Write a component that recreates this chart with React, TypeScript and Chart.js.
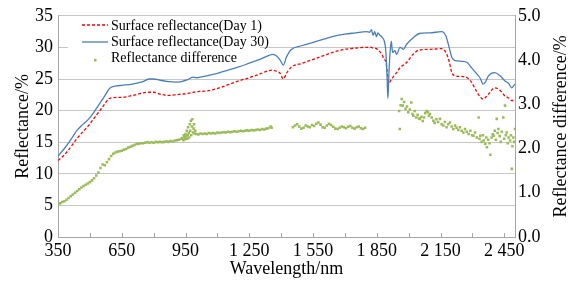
import React, { useEffect, useRef } from 'react';
import { Chart, registerables } from 'chart.js';

Chart.register(...registerables);

const FONT = "'Liberation Serif', 'Times New Roman', serif";

// ---- reflectance curves (left axis, %) ----
const wavelengths = [
  350, 380, 400, 420, 440, 460, 480, 500, 520, 540, 560, 575, 590, 600, 625, 650, 700, 750, 780, 800,
  830, 870, 900, 930, 960, 986, 1000, 1050, 1100, 1150, 1200, 1250, 1300, 1340, 1360, 1380, 1395, 1410, 1425, 1445,
  1500, 1550, 1600, 1650, 1700, 1750, 1800, 1815, 1825, 1832, 1840, 1848, 1855, 1865, 1875, 1885, 1892, 1898, 1902, 1907,
  1913, 1918, 1924, 1935, 1943, 1959, 1975, 1990, 2020, 2050, 2100, 2155, 2175, 2190, 2203, 2220, 2250, 2275, 2295, 2320,
  2335, 2350, 2362, 2375, 2405, 2430, 2453, 2470, 2485, 2495, 2500,
];
const day1 = [
  12.1, 13.0, 13.8, 14.7, 15.6, 16.4, 17.1, 17.9, 18.8, 19.7, 20.6, 21.3, 21.9, 22.0, 22.1, 22.1, 22.4, 22.8, 22.9, 22.9,
  22.6, 22.4, 22.5, 22.6, 22.7, 22.9, 23.0, 23.1, 23.5, 24.1, 24.7, 25.2, 25.8, 26.3, 26.4, 26.2, 25.9, 25.0, 25.9, 26.8,
  27.5, 28.1, 28.7, 29.3, 29.7, 29.9, 30.0, 30.0, 30.0, 29.9, 29.9, 29.8, 29.6, 29.3, 28.8, 28.1, 27.8, 26.5, 25.0, 24.4,
  24.6, 25.0, 25.2, 25.7, 26.0, 26.8, 27.2, 27.6, 28.9, 29.6, 29.7, 29.8, 29.2, 27.8, 26.0, 25.5, 25.4, 25.2, 24.5, 23.0,
  22.2, 21.8, 22.1, 22.6, 23.6, 23.2, 22.3, 22.0, 21.6, 21.6, 21.5,
];
const day30 = [
  12.8, 14.0, 14.9, 15.9, 16.9, 17.6, 18.2, 18.9, 19.8, 20.8, 21.8, 22.6, 23.4, 23.7, 23.9, 24.0, 24.2, 24.6, 25.0, 25.0,
  24.8, 24.6, 24.5, 24.6, 24.9, 25.3, 25.2, 25.5, 25.9, 26.4, 26.9, 27.5, 28.1, 28.7, 28.9, 28.6, 28.0, 27.2, 28.5, 29.6,
  30.3, 30.8, 31.3, 31.8, 32.1, 32.3, 32.5, 32.4, 32.8, 31.9, 32.5, 31.7, 32.3, 31.9, 31.6, 31.0, 29.5, 25.5, 21.9, 26.0,
  29.5, 31.0, 29.2, 29.5, 28.9, 30.0, 29.7, 30.5, 31.5, 32.2, 32.3, 32.5, 31.8, 30.0, 28.4, 27.9, 27.8, 27.6, 26.8, 25.8,
  25.2, 24.2, 24.6, 25.5, 26.0, 25.5, 24.7, 24.3, 23.6, 24.0, 24.2,
];

// ---- reflectance difference (right axis, %) ----
const diffWavelengths = [
  350, 360, 370, 380, 390, 400, 410, 420, 430, 440, 450, 460, 470, 480, 490, 500, 510, 520, 530, 540,
  550, 560, 570, 580, 590, 600, 610, 620, 630, 640, 650, 660, 670, 680, 690, 700, 710, 720, 730, 740,
  750, 760, 770, 780, 790, 800, 810, 820, 830, 840, 850, 860, 870, 880, 890, 900, 910, 920, 930,
  935, 940, 942, 945, 948, 950, 953, 956, 958, 960, 962, 965, 967, 970, 972, 975, 977, 980, 982, 985, 988, 990, 993, 996,
  1000, 1010, 1020, 1030, 1040, 1050, 1060, 1070, 1080, 1090, 1100, 1110, 1120, 1130, 1140, 1150, 1160, 1170, 1180, 1190,
  1200, 1210, 1220, 1230, 1240, 1250, 1260, 1270, 1280, 1290, 1300, 1310, 1320, 1330, 1340, 1350, 1355,
  1455, 1465, 1475, 1485, 1495, 1505, 1515, 1525, 1535, 1545, 1555, 1565, 1575, 1585, 1595, 1605, 1615, 1625, 1635, 1645,
  1655, 1665, 1675, 1685, 1695, 1705, 1715, 1725, 1735, 1745, 1755, 1765, 1775, 1785, 1795,
  1955, 1958, 1962, 1967, 1972, 1978, 1985, 1992, 1998, 2005, 2012, 2018, 2022, 2028, 2035, 2042, 2048, 2053, 2060, 2066,
  2072, 2078, 2084, 2090, 2095, 2100, 2108, 2116, 2122, 2130, 2138, 2147, 2155, 2163, 2170, 2178, 2186, 2194, 2202, 2210,
  2218, 2225, 2233, 2241, 2249, 2257, 2265, 2273, 2282, 2290, 2298, 2305, 2312, 2320, 2329, 2333, 2337, 2343, 2349, 2353,
  2360, 2365, 2368, 2374, 2380, 2384, 2390, 2395, 2400, 2405, 2410, 2414, 2418, 2422, 2428, 2433, 2438, 2445, 2449, 2453,
  2457, 2461, 2466, 2470, 2477, 2481, 2485, 2488, 2492, 2496, 2500,
];
const diffValues = [
  0.74, 0.76, 0.79, 0.81, 0.84, 0.88, 0.92, 0.96, 1.00, 1.04, 1.08, 1.12, 1.15, 1.18, 1.21, 1.24, 1.28, 1.33, 1.39, 1.46,
  1.56, 1.64, 1.62, 1.69, 1.76, 1.83, 1.88, 1.91, 1.93, 1.94, 1.95, 1.97, 1.99, 2.02, 2.04, 2.06, 2.08, 2.10, 2.11, 2.12,
  2.12, 2.13, 2.14, 2.13, 2.14, 2.13, 2.15, 2.14, 2.15, 2.14, 2.15, 2.16, 2.15, 2.17, 2.16, 2.18, 2.19, 2.20, 2.22,
  2.24, 2.19, 2.30, 2.26, 2.21, 2.33, 2.27, 2.40, 2.22, 2.30, 2.48, 2.35, 2.25, 2.55, 2.40, 2.63, 2.30, 2.50, 2.66, 2.36, 2.45, 2.55, 2.34, 2.40,
  2.33, 2.32, 2.34, 2.33, 2.34, 2.33, 2.35, 2.34, 2.35, 2.34, 2.36, 2.35, 2.36, 2.37, 2.36, 2.38, 2.37, 2.38, 2.39, 2.38,
  2.39, 2.40, 2.39, 2.40, 2.41, 2.40, 2.42, 2.41, 2.42, 2.43, 2.42, 2.44, 2.43, 2.45, 2.46, 2.50, 2.47,
  2.48, 2.52, 2.55, 2.50, 2.45, 2.47, 2.52, 2.50, 2.48, 2.53, 2.51, 2.56, 2.59, 2.54, 2.48, 2.47, 2.52, 2.56, 2.53, 2.49,
  2.45, 2.44, 2.47, 2.50, 2.48, 2.46, 2.49, 2.51, 2.47, 2.45, 2.48, 2.50, 2.46, 2.44, 2.47,
  2.85, 2.44, 2.98, 3.12, 2.97, 3.05, 2.90, 2.95, 2.82, 2.88, 3.04, 2.78, 2.74, 2.85, 2.70, 2.76, 2.68, 2.67, 2.72, 2.62,
  2.70, 2.80, 2.85, 2.82, 2.74, 2.78, 2.70, 2.63, 2.58, 2.66, 2.60, 2.67, 2.55, 2.52, 2.60, 2.48, 2.55, 2.59, 2.50, 2.44,
  2.52, 2.47, 2.42, 2.48, 2.40, 2.36, 2.44, 2.38, 2.33, 2.40, 2.30, 2.29, 2.36, 2.25, 2.70, 2.22, 2.29, 2.15, 2.30, 2.18,
  2.10, 2.25, 2.03, 2.20, 2.12, 1.86, 2.25, 2.32, 2.29, 2.40, 2.20, 2.67, 2.35, 2.44, 2.28, 2.15, 2.38, 2.70, 2.22, 2.97,
  2.30, 2.36, 2.12, 2.25, 2.18, 2.30, 1.54, 2.05, 2.25, 2.15, 2.44,
];

// ---- axes ----
const xLabelTicks = [350, 650, 950, 1250, 1550, 1850, 2150, 2450];
const xMinorTicks = [500, 650, 800, 950, 1100, 1250, 1400, 1550, 1700, 1850, 2000, 2150, 2300, 2450];
const seriesLabels = ['Surface reflectance(Day 1)', 'Surface reflectance(Day 30)', 'Reflectance difference'];
const xTitle = 'Wavelength/nm';
const leftTitle = 'Reflectance/%';
const rightTitle = 'Reflectance difference/%';

const RED = '#FF0000';
const BLUE = '#4A7EBB';
const GREEN = '#9BBB59';
const GRID = '#c6c6c6';
const AXIS = '#a6a6a6';

const fmtX = (v: number) =>
  v >= 1000 ? `${Math.floor(v / 1000)} ${String(v % 1000).padStart(3, '0')}` : String(v);

const LEGEND_BOX = { x: 68, y: 17, w: 192, h: 52 };

const overlayPlugin = {
  id: 'overlay',
  beforeDatasetsDraw(chart: any) {
    const { ctx } = chart;
    ctx.save();
    ctx.fillStyle = '#fff';
    ctx.fillRect(LEGEND_BOX.x, LEGEND_BOX.y, LEGEND_BOX.w, LEGEND_BOX.h);
    ctx.restore();
  },
  afterDraw(chart: any) {
    const { ctx, chartArea, scales } = chart;
    ctx.save();
    // inward minor ticks on x axis
    ctx.strokeStyle = AXIS;
    ctx.lineWidth = 1;
    xMinorTicks.forEach((v) => {
      const x = Math.round(scales.x.getPixelForValue(v)) + 0.5;
      ctx.beginPath();
      ctx.moveTo(x, chartArea.bottom);
      ctx.lineTo(x, chartArea.bottom - 4);
      ctx.stroke();
    });
    // right axis title (reads bottom to top)
    ctx.save();
    ctx.translate(561, (chartArea.top + chartArea.bottom) / 2);
    ctx.rotate(-Math.PI / 2);
    ctx.font = `18px ${FONT}`;
    ctx.fillStyle = '#000';
    ctx.textAlign = 'center';
    ctx.textBaseline = 'middle';
    ctx.fillText(rightTitle, 0, 0);
    ctx.restore();
    // legend items
    ctx.font = `14px ${FONT}`;
    ctx.textAlign = 'left';
    ctx.textBaseline = 'middle';
    const rows = [26, 42, 58];
    ctx.strokeStyle = RED;
    ctx.lineWidth = 1.3;
    ctx.setLineDash([3, 2]);
    ctx.beginPath();
    ctx.moveTo(82, rows[0] - 1);
    ctx.lineTo(108, rows[0] - 1);
    ctx.stroke();
    ctx.setLineDash([]);
    ctx.strokeStyle = BLUE;
    ctx.beginPath();
    ctx.moveTo(82, rows[1]);
    ctx.lineTo(108, rows[1]);
    ctx.stroke();
    ctx.fillStyle = GREEN;
    ctx.fillRect(94, rows[2] + 1, 2.5, 2.5);
    ctx.fillStyle = '#000';
    seriesLabels.forEach((t, i) => ctx.fillText(t, 111, rows[i]));
    ctx.restore();
  },
};

export default function App() {
  const ref = useRef<HTMLCanvasElement | null>(null);
  useEffect(() => {
    if (!ref.current) return;
    const lineData1 = wavelengths.map((x, i) => ({ x, y: day1[i] }));
    const lineData30 = wavelengths.map((x, i) => ({ x, y: day30[i] }));
    const diffData = diffWavelengths.map((x, i) => ({ x, y: diffValues[i] }));
    const chart = new Chart(ref.current, {
      type: 'line',
      data: {
        datasets: [
          {
            label: seriesLabels[0],
            data: lineData1,
            borderColor: RED,
            borderWidth: 1.3,
            borderDash: [3, 2],
            pointRadius: 0,
            cubicInterpolationMode: 'monotone',
            yAxisID: 'y',
            order: 2,
          },
          {
            label: seriesLabels[1],
            data: lineData30,
            borderColor: BLUE,
            borderWidth: 1.3,
            pointRadius: 0,
            cubicInterpolationMode: 'monotone',
            yAxisID: 'y',
            order: 1,
          },
          {
            label: seriesLabels[2],
            data: diffData,
            showLine: false,
            pointStyle: 'rect',
            pointRadius: 1.8,
            pointBorderWidth: 0,
            pointBackgroundColor: GREEN,
            pointBorderColor: GREEN,
            yAxisID: 'y1',
            order: 3,
          },
        ],
      } as any,
      options: {
        animation: false,
        responsive: false,
        devicePixelRatio: 1,
        layout: { padding: { top: 15, left: 0, right: 0, bottom: 0 } },
        plugins: { legend: { display: false }, tooltip: { enabled: false } },
        scales: {
          x: {
            type: 'linear',
            min: 350,
            max: 2500,
            afterBuildTicks: (s: any) => {
              s.ticks = xLabelTicks.map((v) => ({ value: v }));
            },
            afterFit: (s: any) => {
              s.height = 49;
            },
            grid: { display: false, drawTicks: false },
            border: { display: true, color: AXIS },
            ticks: {
              autoSkip: false,
              maxRotation: 0,
              padding: 3,
              color: '#000',
              font: { family: FONT, size: 18 },
              callback: (v: any) => fmtX(Number(v)),
            },
            title: {
              display: true,
              text: xTitle,
              color: '#000',
              font: { family: FONT, size: 18 },
              padding: { top: 0, bottom: 6 },
            },
          },
          y: {
            position: 'left',
            min: 0,
            max: 35,
            afterFit: (s: any) => {
              s.width = 58;
            },
            grid: { color: GRID, drawTicks: false },
            border: { display: true, color: AXIS },
            ticks: {
              stepSize: 5,
              padding: 5,
              color: '#000',
              font: { family: FONT, size: 18 },
            },
            title: {
              display: true,
              text: leftTitle,
              color: '#000',
              font: { family: FONT, size: 18 },
              padding: { top: 12, bottom: 0 },
            },
          },
          y1: {
            position: 'right',
            min: 0,
            max: 5,
            afterFit: (s: any) => {
              s.width = 59;
            },
            grid: { drawOnChartArea: false, drawTicks: false },
            border: { display: true, color: AXIS },
            ticks: {
              stepSize: 0.5,
              padding: 3,
              color: '#000',
              font: { family: FONT, size: 18 },
              callback: (v: any) => Number(v).toFixed(1),
            },
          },
        },
      } as any,
      plugins: [overlayPlugin],
    });
    return () => chart.destroy();
  }, []);
  return (
    <div style={{ position: 'fixed', left: 0, top: 0, width: 574, height: 286, background: '#fff' }}>
      <canvas ref={ref} width={574} height={286} style={{ width: 574, height: 286, display: 'block' }} />
    </div>
  );
}
